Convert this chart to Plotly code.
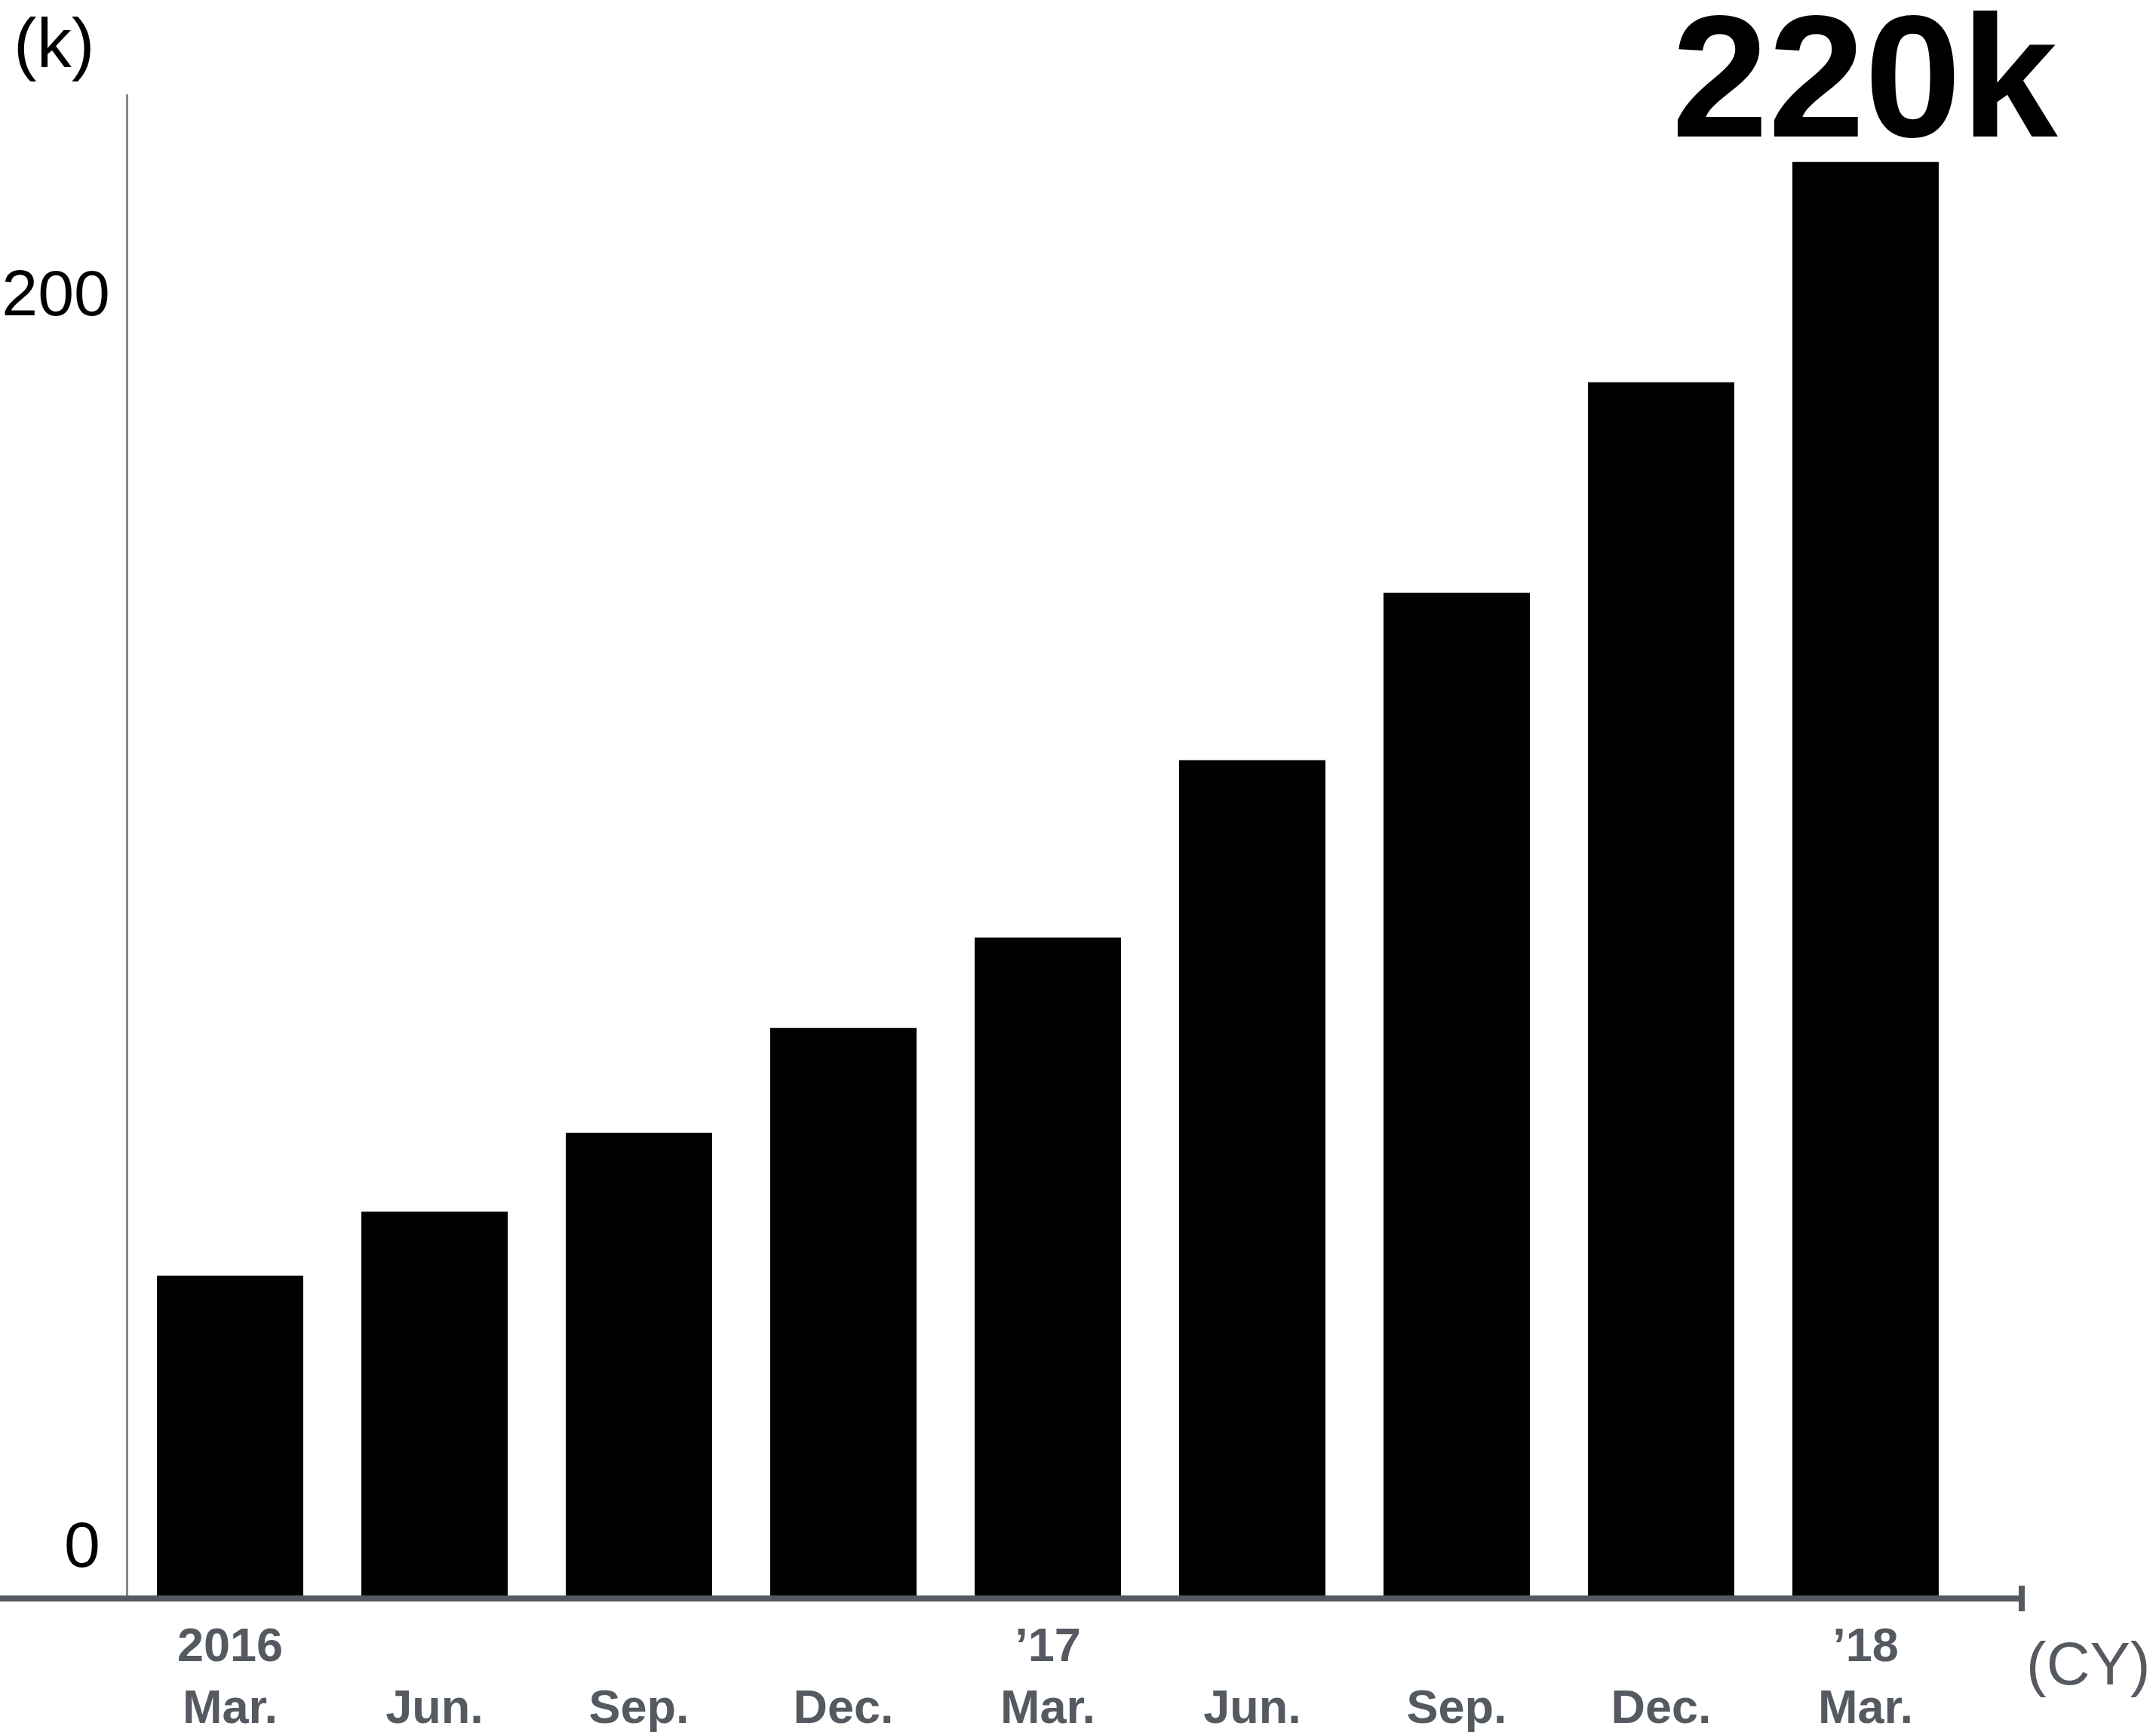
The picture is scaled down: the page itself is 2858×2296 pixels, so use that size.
import plotly.graph_objects as go

# ---- data ----
periods = ["2016 Mar.", "2016 Jun.", "2016 Sep.", "2016 Dec.",
           "2017 Mar.", "2017 Jun.", "2017 Sep.", "2017 Dec.", "2018 Mar."]
tick_labels = ["2016<br>Mar.", "\u00a0<br>Jun.", "\u00a0<br>Sep.", "\u00a0<br>Dec.",
               "\u201917<br>Mar.", "\u00a0<br>Jun.", "\u00a0<br>Sep.", "\u00a0<br>Dec.",
               "\u201918<br>Mar."]
values_k = [49.1, 58.9, 71.0, 87.1, 101.0, 128.2, 153.9, 186.2, 220.0]
y_ticks = [200]
y_unit = "(k)"
x_unit = "(CY)"

W, H = 2858, 2296
ML, MR, MT, MB = 0, 178, 125, 181
plot_w = W - ML - MR
plot_h = H - MT - MB

AXIS_GRAY = "#555a61"

fig = go.Figure()
fig.add_trace(go.Bar(
    x=periods, y=values_k,
    marker=dict(color="#000000", line=dict(width=0)),
    width=0.716,
    hoverinfo="skip",
))

fig.update_layout(
    width=W, height=H,
    margin=dict(l=ML, r=MR, t=MT, b=MB, pad=0, autoexpand=False),
    paper_bgcolor="white", plot_bgcolor="white",
    showlegend=False,
    font=dict(family="Liberation Sans, Arial, sans-serif", color="black"),
    xaxis=dict(
        type="category",
        range=[-1.1255, 8.764],
        tickmode="array", tickvals=periods, ticktext=tick_labels,
        tickfont=dict(size=63, color=AXIS_GRAY, weight="bold",
                      family="Liberation Sans, Arial, sans-serif"),
        showline=True, linecolor=AXIS_GRAY, linewidth=8,
        ticks="", showgrid=False, zeroline=False,
        ticklabelstandoff=3, automargin=False,
    ),
    yaxis=dict(
        range=[0, 230.4],
        anchor="free", position=168 / plot_w,
        tickmode="array", tickvals=y_ticks,
        tickfont=dict(size=86, color="black"),
        showline=True, linecolor="#8a8a8a", linewidth=3,
        ticks="", showgrid=False, zeroline=False,
        ticklabelstandoff=4, automargin=False,
    ),
)

# zero label (sits above the baseline)
fig.add_annotation(x=135 / plot_w, xref="paper", y=0, yref="y",
                   text="0", showarrow=False, xanchor="right", yanchor="middle",
                   yshift=68, font=dict(size=86, color="black"))

# unit labels
fig.add_annotation(x=71 / plot_w, xref="paper", y=(plot_h + MT - 57) / plot_h, yref="paper",
                   text=y_unit, showarrow=False, xanchor="center", yanchor="middle",
                   font=dict(size=92, color="black"))
fig.add_annotation(x=2852 / plot_w, xref="paper", y=(plot_h + MT - 2205) / plot_h, yref="paper",
                   text=x_unit, showarrow=False, xanchor="right", yanchor="middle",
                   font=dict(size=80, color=AXIS_GRAY))

# headline value above the last bar
fig.add_annotation(x=periods[-1], xref="x", y=values_k[-1], yref="y",
                   text=f"{values_k[-1]:.0f}k", showarrow=False,
                   xanchor="center", yanchor="bottom", yshift=-17,
                   font=dict(size=230, color="black", weight="bold"))

# end tick of the x axis
fig.add_shape(type="line", xref="paper", yref="paper",
              x0=1, x1=1, ysizemode="pixel", yanchor=0, y0=-21, y1=13,
              line=dict(color=AXIS_GRAY, width=8))

fig.write_html("out.html")
